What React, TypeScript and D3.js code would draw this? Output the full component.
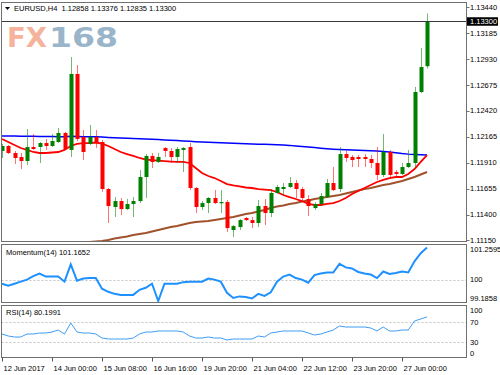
import React from 'react';
import * as d3 from 'd3';

// EURUSD H4 candles, 69 bars
const opens = [
  1.12025, 1.12074, 1.12005, 1.11966, 1.11926, 1.12064, 1.12064, 1.12103, 1.12074, 1.12113,
  1.12202, 1.12035, 1.12782, 1.12162, 1.12094, 1.12162, 1.12113, 1.11651, 1.11474, 1.11533,
  1.11454, 1.11504, 1.11533, 1.11769, 1.11976, 1.11917, 1.12054, 1.12025, 1.11966, 1.12035,
  1.12064, 1.11661, 1.11474, 1.11513, 1.11563, 1.11513, 1.11523, 1.11248, 1.11277, 1.11366,
  1.11346, 1.11317, 1.11484, 1.11415, 1.11612, 1.11651, 1.11671, 1.1171, 1.11651, 1.11553,
  1.11464, 1.11504, 1.11572, 1.1171, 1.11651, 1.11995, 1.11966, 1.11966, 1.11966, 1.11946,
  1.11907, 1.11789, 1.12015, 1.11818, 1.11799, 1.11867, 1.11907, 1.12605, 1.12858,
];
const highs = [
  1.12094, 1.12084, 1.12025, 1.12005, 1.12241, 1.12192, 1.12113, 1.12143, 1.12192, 1.12251,
  1.12212, 1.12949, 1.1287, 1.12231, 1.1228, 1.12231, 1.12133, 1.11661, 1.11572, 1.11563,
  1.11553, 1.11572, 1.11838, 1.11995, 1.12005, 1.12005, 1.12064, 1.12054, 1.12064, 1.12064,
  1.12103, 1.11671, 1.11533, 1.11572, 1.11641, 1.11641, 1.11543, 1.11297, 1.11356, 1.11376,
  1.11376, 1.11543, 1.11553, 1.11651, 1.1169, 1.1171, 1.11769, 1.1174, 1.11671, 1.11592,
  1.11523, 1.11612, 1.11749, 1.11867, 1.12064, 1.12025, 1.11985, 1.11985, 1.11995, 1.11985,
  1.12064, 1.12192, 1.12035, 1.11838, 1.11907, 1.12035, 1.12654, 1.13037, 1.13376,
];
const lows = [
  1.11956, 1.11995, 1.11897, 1.11848, 1.11887, 1.12035, 1.11907, 1.12035, 1.12064, 1.12103,
  1.12035, 1.11966, 1.12123, 1.11936, 1.12084, 1.12054, 1.11622, 1.11317, 1.11376, 1.11395,
  1.11445, 1.11376, 1.11513, 1.11563, 1.11858, 1.11907, 1.11966, 1.11907, 1.11907, 1.11818,
  1.11641, 1.11415, 1.11445, 1.11415, 1.11504, 1.11415, 1.11228, 1.11179, 1.11248, 1.11336,
  1.11267, 1.11277, 1.11297, 1.11376, 1.11602, 1.11592, 1.11661, 1.11563, 1.11543, 1.11386,
  1.11445, 1.11484, 1.11563, 1.11631, 1.11622, 1.11917, 1.11867, 1.11867, 1.11867, 1.11858,
  1.1174, 1.11769, 1.11769, 1.11769, 1.11789, 1.11858, 1.11858, 1.12595, 1.12835,
];
const closes = [
  1.12074, 1.12005, 1.11956, 1.11926, 1.12064, 1.12044, 1.12103, 1.12074, 1.12123, 1.12202,
  1.12044, 1.12782, 1.12143, 1.12015, 1.12162, 1.12103, 1.11651, 1.11484, 1.11533, 1.11454,
  1.11504, 1.11533, 1.11769, 1.11976, 1.11917, 1.11966, 1.12025, 1.11966, 1.12044, 1.12054,
  1.11661, 1.11474, 1.11513, 1.11563, 1.11513, 1.11523, 1.11267, 1.11287, 1.11346, 1.11346,
  1.11317, 1.11484, 1.11415, 1.11612, 1.11671, 1.11671, 1.1171, 1.11651, 1.11563, 1.11484,
  1.11504, 1.11582, 1.1171, 1.11641, 1.11995, 1.11956, 1.11936, 1.11946, 1.11946, 1.11907,
  1.11789, 1.12015, 1.11789, 1.11799, 1.11867, 1.11907, 1.12605, 1.1285, 1.133,
];

// moving averages
const maBlue = [
  1.12172, 1.12172, 1.12172, 1.1217, 1.1217, 1.1217, 1.12168, 1.12168,
  1.12168, 1.12166, 1.12166, 1.1217, 1.12168, 1.12166, 1.12166, 1.12164,
  1.12162, 1.12158, 1.12155, 1.12152, 1.1215, 1.12148, 1.12146, 1.12143,
  1.1214, 1.12137, 1.12134, 1.12131, 1.12128, 1.12124, 1.1212, 1.12116,
  1.12113, 1.12111, 1.12109, 1.12107, 1.12104, 1.12101, 1.12098, 1.12096,
  1.12094, 1.12092, 1.1209, 1.12088, 1.12086, 1.12083, 1.1208, 1.12075,
  1.1207, 1.12064, 1.12058, 1.12052, 1.12047, 1.12043, 1.1204, 1.12037,
  1.12035, 1.12032, 1.1203, 1.12027, 1.12024, 1.1202, 1.12015, 1.12008,
  1.12, 1.11994, 1.1199, 1.11987, 1.11985,
];
const maRed = [
  1.12143, 1.12113, 1.12084, 1.12054, 1.12035, 1.12015, 1.12005, 1.12005, 1.1201, 1.12015,
  1.12035, 1.12074, 1.12094, 1.12103, 1.12103, 1.12108, 1.12098, 1.12074, 1.12044, 1.12015,
  1.11995, 1.11976, 1.11956, 1.11941, 1.11936, 1.11931, 1.11926, 1.11921, 1.11917, 1.11917,
  1.11907, 1.11858, 1.11808, 1.11779, 1.11759, 1.1173, 1.117, 1.11686, 1.11676, 1.11666,
  1.11661, 1.11651, 1.11646, 1.11641, 1.11622, 1.11592, 1.11572, 1.11553, 1.11533, 1.11504,
  1.11494, 1.11494, 1.11504, 1.11513, 1.11533, 1.11563, 1.11602, 1.11631, 1.11661, 1.1169,
  1.1172, 1.1174, 1.11759, 1.11769, 1.11769, 1.11799, 1.11848, 1.11917, 1.11985,
];
const maBrown = [
  null, null, null, null, null, null, null, null, null, null,
  null, null, null, null, 1.1113, 1.11135, 1.1114, 1.1115, 1.11165, 1.11174,
  1.11184, 1.11199, 1.11209, 1.11219, 1.11233, 1.11248, 1.11263, 1.11277, 1.11287, 1.11302,
  1.11317, 1.11327, 1.11332, 1.11337, 1.11346, 1.11356, 1.11366, 1.11376, 1.11391, 1.11405,
  1.11415, 1.1143, 1.11445, 1.11464, 1.11479, 1.11489, 1.11504, 1.11513, 1.11528, 1.11538,
  1.11553, 1.11563, 1.11572, 1.11582, 1.11592, 1.11607, 1.11622, 1.11636, 1.11651, 1.11661,
  1.11676, 1.1169, 1.117, 1.11715, 1.1173, 1.1175, 1.11769, 1.11794, 1.11818,
];

const momentum = [
  99.852, 99.778, 99.852, 99.926, 100.0, 100.13, 100.223, 100.112, 100.112, 100.112,
  99.926, 100.556, 99.963, 100.037, 100.056, 100.056, 99.667, 99.556, 99.482, 99.445,
  99.445, 99.445, 99.63, 99.704, 99.852, 99.223, 99.852, 99.852, 99.852, 99.908,
  99.926, 99.926, 99.926, 100.037, 100.0, 99.926, 99.519, 99.334, 99.39, 99.371,
  99.315, 99.482, 99.408, 99.538, 99.926, 100.112, 100.186, 100.056, 100.0, 99.889,
  100.167, 100.223, 100.26, 100.26, 100.574, 100.445, 100.408, 100.278, 100.223, 100.186,
  100.056, 100.297, 100.204, 100.241, 100.297, 100.26, 100.667, 100.963, 101.1652,
];
const rsi = [
  46, 42, 40, 40, 46, 46, 48, 48, 50, 54,
  46, 68, 50, 48, 48, 46, 38, 36, 36, 36,
  36, 38, 46, 50, 50, 52, 52, 52, 52, 50,
  42, 38, 38, 40, 38, 38, 34, 36, 36, 36,
  36, 42, 40, 48, 50, 52, 52, 52, 52, 48,
  44, 46, 50, 54, 62, 60, 60, 60, 60, 58,
  52, 60, 52, 52, 54, 54, 72, 76, 80.1991,
];

const priceTicks = [1.1344, 1.13185, 1.1293, 1.12675, 1.1242, 1.12165, 1.1191, 1.11655, 1.114, 1.1115];
const momTicks = [101.2595, 100, 99.1858];
const rsiTicks = [100, 70, 30, 0];
const timeLabels = [
  '12 Jun 2017', '14 Jun 00:00', '15 Jun 08:00', '16 Jun 16:00', '19 Jun 20:00',
  '21 Jun 04:00', '22 Jun 12:00', '23 Jun 20:00', '27 Jun 00:00',
];
const lastPrice = 1.133;

const FONT = '"Liberation Sans", Arial, sans-serif';
const L = 1.5, R = 466.5;
const mainTop = 2.5, mainBot = 241.5;
const momTop = 244.5, momBot = 302.5;
const rsiTop = 305.5, rsiBot = 357.5;

const App = () => {
  const n = closes.length;
  const x = d3.scaleLinear().domain([0, n - 1]).range([2, 427]);
  const yP = d3.scaleLinear().domain([1.1115, 1.1344]).range([240, 7]);
  const yM = d3.scaleLinear().domain([99.1858, 101.2595]).range([302, 245]);
  const yR = d3.scaleLinear().domain([0, 100]).range([357, 307]);

  const maLine = d3.line<number | null>()
    .defined(d => d != null)
    .x((d, i) => x(i))
    .y(d => yP(d as number));
  const momLine = d3.line<number>().x((d, i) => x(i)).y(d => yM(d));
  const rsiLine = d3.line<number>().x((d, i) => x(i)).y(d => yR(d));

  const border = '#707070';
  const txt = { fontFamily: FONT, fontSize: 7.5, fill: '#000' } as const;

  return (
    <svg width={500} height={375} style={{ position: 'absolute', left: 0, top: 0, background: '#fff' }}>
      <defs>
        <clipPath id="cMain"><rect x={L} y={mainTop} width={R - L} height={mainBot - mainTop} /></clipPath>
        <clipPath id="cMom"><rect x={L} y={momTop} width={R - L} height={momBot - momTop} /></clipPath>
        <clipPath id="cRsi"><rect x={L} y={rsiTop} width={R - L} height={rsiBot - rsiTop} /></clipPath>
      </defs>
      <rect width={500} height={375} fill="#fff" />

      {/* watermark */}
      <text x={7} y={47} fontFamily='"DejaVu Sans", sans-serif' fontWeight="bold" fontSize={26}
        fill="#f4b39a" textLength={40} lengthAdjust="spacingAndGlyphs">FX</text>
      <text x={49} y={47} fontFamily='"DejaVu Sans", sans-serif' fontWeight="bold" fontSize={26}
        fill="#9ab5ca" textLength={69} lengthAdjust="spacingAndGlyphs">168</text>

      {/* main panel */}
      <g clipPath="url(#cMain)">
        <path d={maLine(maBrown) || ''} fill="none" stroke="#a0522d" strokeWidth={2} />
        <path d={maLine(maBlue) || ''} fill="none" stroke="#0000ff" strokeWidth={1.5} />
        <path d={maLine(maRed) || ''} fill="none" stroke="#ff0000" strokeWidth={1.8} />
        {closes.map((c, i) => {
          const o = opens[i];
          const up = c >= o;
          const col = up ? '#008000' : '#ff0000';
          const cx = Math.round(x(i));
          const top = yP(Math.max(o, c));
          const bot = yP(Math.min(o, c));
          return (
            <g key={i}>
              <line x1={cx + 0.5} x2={cx + 0.5} y1={yP(highs[i])} y2={yP(lows[i])}
                stroke={col} strokeOpacity={0.55} strokeWidth={1} />
              <rect x={cx - 1.5} y={top} width={4} height={Math.max(1.2, bot - top)} fill={col} />
            </g>
          );
        })}
        <line x1={L} x2={R} y1={Math.round(yP(lastPrice)) + 0.5} y2={Math.round(yP(lastPrice)) + 0.5}
          stroke="#3a3a3a" strokeWidth={1} />
      </g>

      {/* momentum panel */}
      <g clipPath="url(#cMom)">
        <line x1={L} x2={R} y1={Math.round(yM(100)) + 0.5} y2={Math.round(yM(100)) + 0.5}
          stroke="#c4c4c4" strokeDasharray="2,2" />
        <path d={momLine(momentum) || ''} fill="none" stroke="#1e90ff" strokeWidth={2} />
      </g>
      <text {...txt} x={6} y={254.5}>Momentum(14) 101.1652</text>

      {/* rsi panel */}
      <g clipPath="url(#cRsi)">
        {[70, 30].map(v => (
          <line key={v} x1={L} x2={R} y1={Math.round(yR(v)) + 0.5} y2={Math.round(yR(v)) + 0.5}
            stroke="#c4c4c4" strokeDasharray="2,2" />
        ))}
        <path d={rsiLine(rsi) || ''} fill="none" stroke="#3f9cf5" strokeWidth={1} />
      </g>
      <text {...txt} x={6} y={314.5}>RSI(14) 80.1991</text>

      {/* panel borders */}
      {[[mainTop, mainBot], [momTop, momBot], [rsiTop, rsiBot]].map(([t, b], k) => (
        <rect key={k} x={L} y={t} width={R - L} height={b - t} fill="none" stroke={border} strokeWidth={1} />
      ))}

      {/* header */}
      <path d="M5,7 L10,7 L7.5,10 Z" fill="#000" />
      <text {...txt} x={14} y={10.8} style={{ whiteSpace: 'pre' }}>
        {'EURUSD,H4  1.12858 1.13376 1.12835 1.13300'}
      </text>

      {/* price axis */}
      {priceTicks.map(t => (
        <g key={t}>
          <line x1={R} x2={R + 3} y1={Math.round(yP(t)) + 0.5} y2={Math.round(yP(t)) + 0.5} stroke={border} />
          <text {...txt} x={470} y={yP(t) + 2.7}>{t.toFixed(5)}</text>
        </g>
      ))}
      <rect x={467} y={yP(lastPrice) - 4} width={31} height={8.5} fill="#000" />
      <text {...txt} fill="#fff" x={470} y={yP(lastPrice) + 2.8}>{lastPrice.toFixed(5)}</text>

      {/* momentum axis */}
      {momTicks.map((t, k) => {
        const yy = Math.min(Math.max(yM(t), momTop + 5), momBot - 4.5);
        return <text key={k} {...txt} x={470} y={yy + 2.7}>{k === 1 ? '100' : t.toFixed(4)}</text>;
      })}

      {/* rsi axis */}
      {rsiTicks.map(t => {
        const yy = Math.min(Math.max(yR(t), rsiTop + 5), rsiBot - 4.5);
        return <text key={t} {...txt} x={470} y={yy + 2.7}>{t}</text>;
      })}

      {/* time axis */}
      {timeLabels.map((lab, k) => {
        const xx = Math.round(x(k * 8)) + 0.5;
        return (
          <g key={lab}>
            <line x1={xx} x2={xx} y1={rsiBot} y2={rsiBot + 4} stroke="#555" />
            <text {...txt} x={xx + 1} y={371}>{lab}</text>
          </g>
        );
      })}
    </svg>
  );
};

export default App;
